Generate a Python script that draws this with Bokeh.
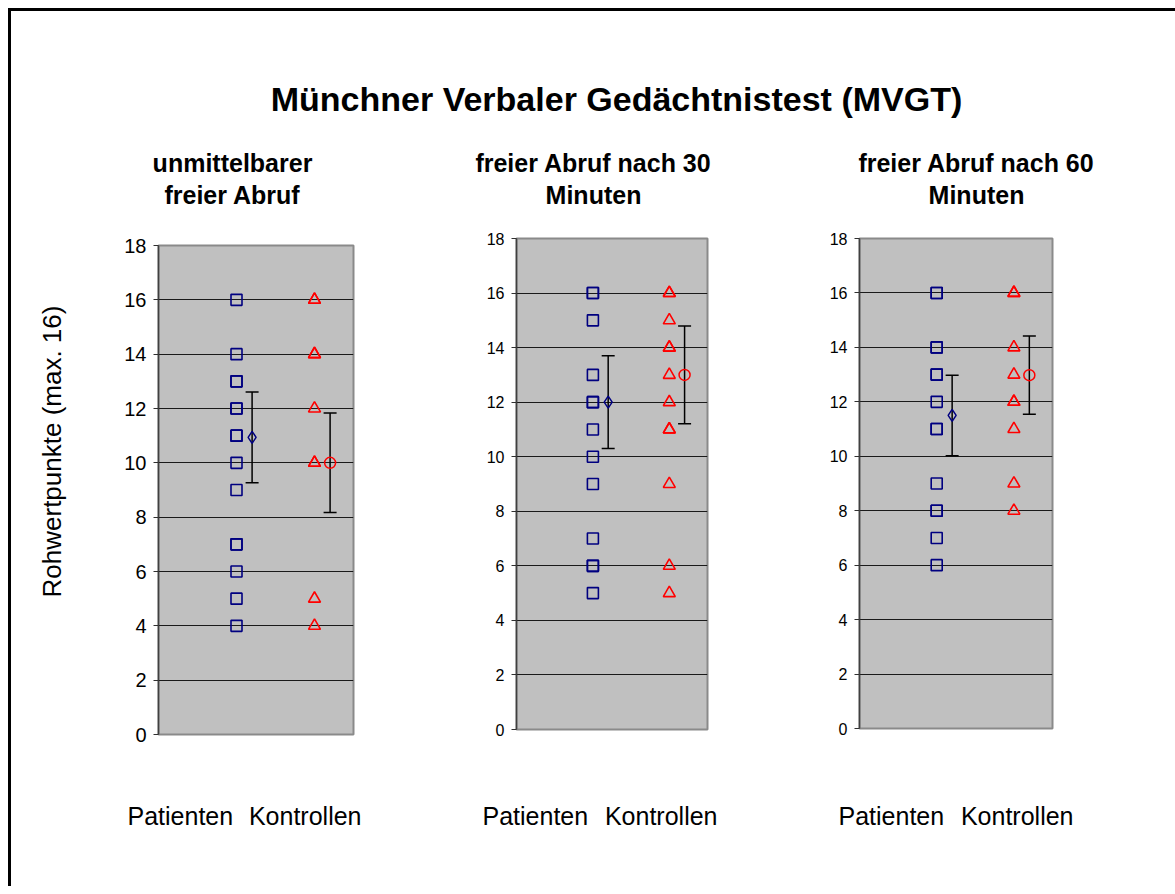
import math
from bokeh.plotting import figure
from bokeh.models import Range1d, FixedTicker, ColumnDataSource, Whisker, TeeHead
from bokeh.layouts import column, row
from bokeh.core.properties import value
from bokeh.embed import file_html
from bokeh.resources import INLINE

# ---------------- data ----------------
main_title = "Münchner Verbaler Gedächtnistest (MVGT)"
panel_titles = [
    ["unmittelbarer", "freier Abruf"],
    ["freier Abruf nach 30", "Minuten"],
    ["freier Abruf nach 60", "Minuten"],
]
y_label = "Rohwertpunkte (max. 16)"
x_labels = ["Patienten", "Kontrollen"]
y_ticks = [0, 2, 4, 6, 8, 10, 12, 14, 16, 18]
grid_ticks = [2, 4, 6, 8, 10, 12, 14, 16]

group_x = [1, 2]        # Patienten, Kontrollen
mean_x = [1.2, 2.2]     # position of group mean + SD bar

patients_1 = [16, 14, 13, 13, 12, 12, 11, 11, 10, 9, 7, 7, 6, 5, 4]
controls_1 = [16, 16, 14, 14, 12, 10, 10, 5, 4]
means_1 = [10.94, 10.0]
sds_1 = [1.67, 1.83]

patients_2 = [16, 16, 15, 13, 12, 12, 11, 10, 9, 7, 6, 6, 5]
controls_2 = [16, 16, 15, 14, 14, 13, 12, 11, 11, 9, 6, 5]
means_2 = [12.0, 13.0]
sds_2 = [1.70, 1.79]

patients_3 = [16, 16, 14, 14, 13, 13, 12, 11, 11, 9, 8, 8, 7, 6]
controls_3 = [16, 16, 14, 13, 12, 12, 11, 9, 8]
means_3 = [11.5, 12.98]
sds_3 = [1.48, 1.44]

FONT = value("Liberation Sans")
NAVY = "#000080"
RED = "#ff0000"


def text_canvas(width, height, x0, x1, y0, y1):
    p = figure(width=width, height=height, x_range=Range1d(x0, x1), y_range=Range1d(y1, y0),
               x_axis_location=None, y_axis_location=None, toolbar_location=None,
               output_backend="svg", min_border=0, outline_line_color=None,
               background_fill_color="white", border_fill_color="white")
    p.grid.visible = False
    return p


def panel(pat, con, means, sds, left, right, top, bottom, fw, fh, tick_size):
    p = figure(width=left + fw + right, height=top + fh + bottom,
               frame_width=fw, frame_height=fh,
               x_range=Range1d(0, 2.5), y_range=Range1d(0, 18),
               x_axis_location=None, toolbar_location=None, output_backend="svg",
               min_border_left=left, min_border_right=right,
               min_border_top=top, min_border_bottom=bottom,
               background_fill_color="#c0c0c0", border_fill_color="white",
               outline_line_color="#8a8a8a", outline_line_width=2)
    p.xgrid.visible = False
    ax = p.yaxis[0]
    ax.ticker = FixedTicker(ticks=y_ticks)
    ax.major_label_text_font = "Liberation Sans"
    ax.major_label_text_font_size = tick_size
    ax.major_label_text_color = "black"
    ax.major_tick_out = 5
    ax.major_tick_in = 0
    ax.minor_tick_line_color = None
    ax.major_tick_line_color = "#303030"
    ax.axis_line_color = "#404040"
    ax.axis_line_width = 1.5
    ax.major_label_standoff = 7
    p.ygrid.ticker = FixedTicker(ticks=grid_ticks)
    p.ygrid.grid_line_color = "#1a1a1a"
    p.ygrid.grid_line_width = 1

    src = ColumnDataSource(dict(base=mean_x,
                                upper=[m + s for m, s in zip(means, sds)],
                                lower=[m - s for m, s in zip(means, sds)]))
    w = Whisker(source=src, base="base", upper="upper", lower="lower", dimension="height",
                line_color="black", line_width=1.5,
                upper_head=TeeHead(size=13, line_color="black", line_width=1.5),
                lower_head=TeeHead(size=13, line_color="black", line_width=1.5))
    p.add_layout(w)

    p.scatter(x=[group_x[0]] * len(pat), y=pat, marker="square", size=11,
              fill_color=None, line_color=NAVY, line_width=1.6)
    p.scatter(x=[group_x[1]] * len(con), y=con, marker="triangle", size=12,
              fill_color=None, line_color=RED, line_width=1.6)
    p.scatter(x=[mean_x[0]], y=[means[0]], marker="diamond", size=12,
              fill_color=None, line_color=NAVY, line_width=1.5)
    p.scatter(x=[mean_x[1]], y=[means[1]], marker="circle", size=11,
              fill_color=None, line_color=RED, line_width=1.5)
    return p


# header (page coordinates 11..1175 x 11..225)
header = text_canvas(1164, 214, 11, 1175, 11, 225)
header.text(x=[616], y=[98], text=[main_title], text_font=FONT, text_font_style="bold",
            text_font_size="34px", text_align="center", text_baseline="alphabetic",
            text_color="black")
title_cx = [232, 593, 976]
for cx, lines in zip(title_cx, panel_titles):
    header.text(x=[cx, cx], y=[162, 194], text=lines, text_font=FONT, text_font_style="bold",
                text_font_size="25px", text_align="center", text_baseline="alphabetic",
                text_color="black")

# left strip with y label (page 11..90 x 225..770)
strip = text_canvas(79, 545, 11, 90, 225, 770)
strip.text(x=[51], y=[451], text=[y_label], angle=math.pi / 2, text_font=FONT,
           text_font_size="26px", text_align="center", text_baseline="alphabetic",
           text_color="black")

p1 = panel(patients_1, controls_1, means_1, sds_1, 68, 47, 20, 36, 195, 489, "20px")
p2 = panel(patients_2, controls_2, means_2, sds_2, 116, 53, 13, 41, 191, 491, "16px")
p3 = panel(patients_3, controls_3, means_3, sds_3, 99, 123, 13, 42, 193, 490, "16px")

# footer (page 11..1175 x 770..886)
footer = text_canvas(1164, 116, 11, 1175, 770, 886)
left_x = [127, 482, 838]
right_x = [361, 717, 1073]
footer.text(x=left_x, y=[815] * 3, text=[x_labels[0]] * 3, text_font=FONT,
            text_font_size="25px", text_align="left", text_baseline="alphabetic",
            text_color="black")
footer.text(x=right_x, y=[815] * 3, text=[x_labels[1]] * 3, text_font=FONT,
            text_font_size="25px", text_align="right", text_baseline="alphabetic",
            text_color="black")

root = column(header, row(strip, column(p1), column(p2), column(p3)), footer,
              styles={"margin-left": "8px", "margin-top": "8px",
                      "border-left": "3px solid black", "border-top": "3px solid black"})

open("out.html", "w").write(file_html(root, INLINE))
